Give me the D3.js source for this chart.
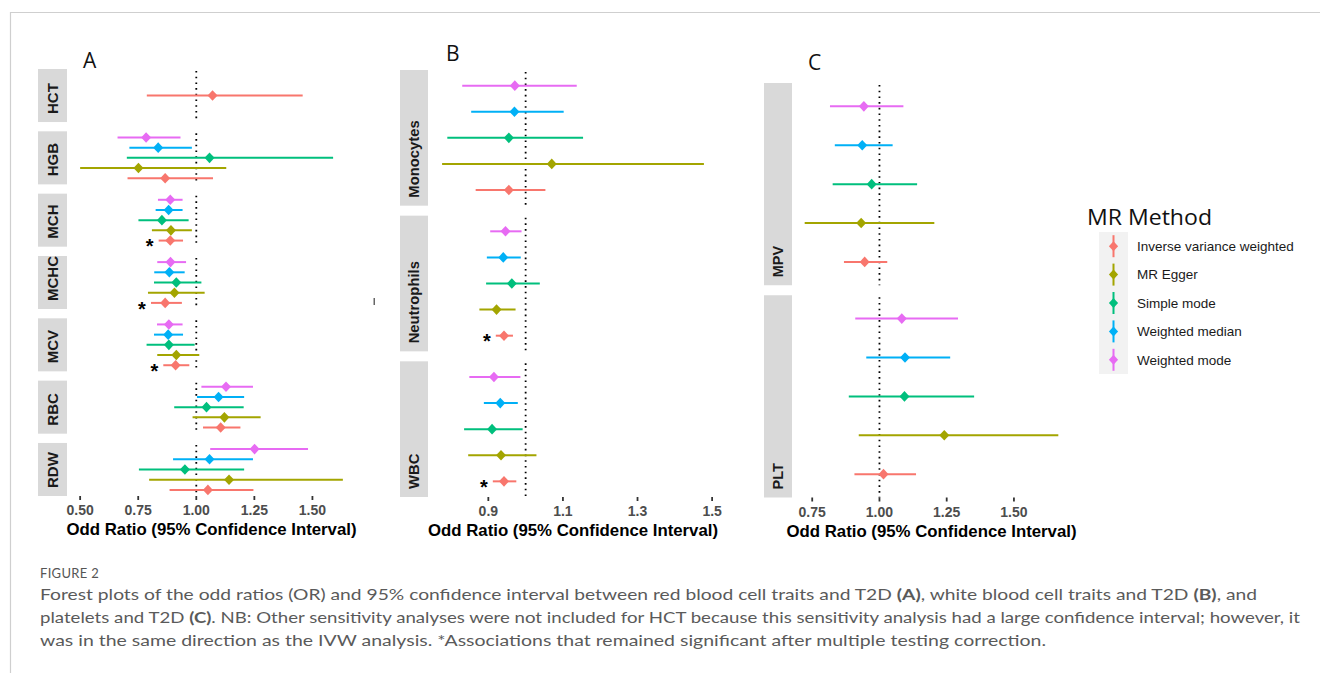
<!DOCTYPE html>
<html>
<head>
<meta charset="utf-8">
<script src="https://cdn.jsdelivr.net/npm/d3@7"></script>
<style>
  html, body { margin: 0; padding: 0; background: #fff; }
  svg { display: block; }
</style>
</head>
<body>
<svg id="chart" width="1320" height="673"></svg>
<script>
// ---------------- DATA ----------------
// method order: IVW, MR Egger, Simple mode, Weighted median, Weighted mode
const methods = ["Inverse variance weighted", "MR Egger", "Simple mode", "Weighted median", "Weighted mode"];
const methodColors = ["#F8766D", "#A3A500", "#00BF7D", "#00B0F6", "#E76BF3"];

// Panel A: red blood cell traits
const traitsA = ["HCT", "HGB", "MCH", "MCHC", "MCV", "RBC", "RDW"];
const orA = [
  [1.070, null, null, null, null],
  [0.866, 0.751, 1.057, 0.836, 0.784],
  [0.888, 0.891, 0.852, 0.881, 0.888],
  [0.866, 0.906, 0.914, 0.884, 0.889],
  [0.911, 0.914, 0.882, 0.879, 0.882],
  [1.105, 1.121, 1.044, 1.096, 1.128],
  [1.050, 1.141, 0.951, 1.057, 1.251]
];
const loA = [
  [0.787, null, null, null, null],
  [0.704, 0.500, 0.701, 0.712, 0.661],
  [0.838, 0.809, 0.751, 0.825, 0.835],
  [0.805, 0.792, 0.818, 0.819, 0.832],
  [0.858, 0.832, 0.786, 0.818, 0.831],
  [1.029, 0.984, 0.905, 1.003, 1.022],
  [0.885, 0.797, 0.753, 0.900, 1.060]
];
const hiA = [
  [1.458, null, null, null, null],
  [1.072, 1.129, 1.589, 0.981, 0.932],
  [0.943, 0.981, 0.967, 0.941, 0.941],
  [0.938, 1.036, 1.022, 0.950, 0.956],
  [0.970, 1.013, 0.993, 0.943, 0.941],
  [1.190, 1.277, 1.204, 1.206, 1.244],
  [1.246, 1.631, 1.206, 1.244, 1.481]
];
const sigA = [false, false, true, true, true, false, false];
const ticksA = [0.50, 0.75, 1.00, 1.25, 1.50];

// Panel B: white blood cell traits
const traitsB = ["Monocytes", "Neutrophils", "WBC"];
const orB = [
  [0.955, 1.070, 0.955, 0.970, 0.971],
  [0.942, 0.922, 0.963, 0.940, 0.946],
  [0.942, 0.934, 0.910, 0.932, 0.915]
];
const loB = [
  [0.866, 0.776, 0.790, 0.854, 0.830],
  [0.920, 0.876, 0.894, 0.896, 0.905],
  [0.912, 0.846, 0.835, 0.888, 0.849]
];
const hiB = [
  [1.053, 1.478, 1.154, 1.102, 1.137],
  [0.966, 0.973, 1.038, 0.987, 0.989],
  [0.975, 1.029, 0.992, 0.979, 0.986]
];
const sigB = [false, true, true];
const ticksB = [0.9, 1.1, 1.3, 1.5];

// Panel C: platelet traits
const traitsC = ["MPV", "PLT"];
const orC = [
  [0.945, 0.932, 0.971, 0.936, 0.942],
  [1.015, 1.241, 1.093, 1.095, 1.083]
];
const loC = [
  [0.868, 0.722, 0.826, 0.834, 0.816],
  [0.907, 0.923, 0.886, 0.951, 0.910]
];
const hiC = [
  [1.029, 1.204, 1.140, 1.049, 1.089],
  [1.136, 1.665, 1.352, 1.263, 1.292]
];
const sigC = [false, false];
const ticksC = [0.75, 1.00, 1.25, 1.50];

const panelLetters = ["A", "B", "C"];
const axisTitle = "Odd Ratio (95% Confidence Interval)";
const legendTitle = "MR Method";
const captionHead = "FIGURE 2";

// ---------------- DRAWING ----------------
const svg = d3.select("#chart");
const FONT = "'Liberation Sans', Arial, sans-serif";

// figure frame
svg.append("line").attr("x1", 10).attr("x2", 1320).attr("y1", 12.5).attr("y2", 12.5)
  .attr("stroke", "#cfcfcf").attr("stroke-width", 1.2);
svg.append("line").attr("x1", 10.5).attr("x2", 10.5).attr("y1", 12).attr("y2", 673)
  .attr("stroke", "#cfcfcf").attr("stroke-width", 1.2);

function diamondPath(cx, cy, hw, hh) {
  const p = d3.path();
  p.moveTo(cx, cy - hh); p.lineTo(cx + hw, cy); p.lineTo(cx, cy + hh); p.lineTo(cx - hw, cy); p.closePath();
  return p.toString();
}

const panels = [
  { traits: traitsA, or: orA, lo: loA, hi: hiA, sig: sigA, ticks: ticksA, fmt: d3.format(".2f"),
    x0: 67, x1: 356, top: 69, bottom: 496, gap: 9.3, stripX: 38, stripW: 29, stripFont: 15,
    letter: { x: 83, y: 68 } },
  { traits: traitsB, or: orB, lo: loB, hi: hiB, sig: sigB, ticks: ticksB, fmt: d3.format(".1f"),
    x0: 429, x1: 717, top: 70, bottom: 497, gap: 10, stripX: 400, stripW: 28, stripFont: 14.8,
    letter: { x: 446, y: 61 } },
  { traits: traitsC, or: orC, lo: loC, hi: hiC, sig: sigC, ticks: ticksC, fmt: d3.format(".2f"),
    x0: 792, x1: 1071, top: 83, bottom: 497.5, gap: 10, stripX: 764, stripW: 28, stripFont: 14.5,
    letter: { x: 808, y: 70 } }
];

panels.forEach((P, pi) => {
  const g = svg.append("g");
  // x scale with ggplot-like 5% expansion
  const allVals = P.lo.flat().concat(P.hi.flat()).filter(v => v != null);
  const [mn, mx] = d3.extent(allVals);
  const ex = (mx - mn) * 0.05;
  const x = d3.scaleLinear().domain([mn - ex, mx + ex]).range([P.x0, P.x1]);

  // facet scale
  const n = P.traits.length;
  const step = (P.bottom - P.top + P.gap) / n;
  const fy = d3.scaleBand().domain(P.traits).range([P.top, P.bottom]).paddingInner(P.gap / step).paddingOuter(0);

  // panel letter
  g.append("text").attr("x", P.letter.x).attr("y", P.letter.y)
    .attr("font-family", "'Open Sans', 'Liberation Sans', sans-serif").attr("font-size", 21)
    .attr("fill", "#111").text(panelLetters[pi]);

  P.traits.forEach((t, ti) => {
    const ft = fy(t), fb = ft + fy.bandwidth();
    // strip
    g.append("rect").attr("x", P.stripX).attr("y", ft).attr("width", P.stripW).attr("height", fb - ft)
      .attr("fill", "#d9d9d9");
    const sx = P.stripX + P.stripW / 2 + P.stripFont * 0.36;
    g.append("text")
      .attr("transform", `translate(${sx},${fb - 8}) rotate(-90)`)
      .attr("font-family", FONT).attr("font-weight", "bold").attr("font-size", P.stripFont)
      .attr("fill", "#1a1a1a").attr("text-anchor", "start").text(t);

    // dotted reference line at OR = 1
    g.append("line").attr("x1", x(1)).attr("x2", x(1)).attr("y1", ft + 2).attr("y2", fb)
      .attr("stroke", "#000").attr("stroke-width", 1.8).attr("stroke-dasharray", "1.6 4.1");

    // rows present
    const present = methods.map((m, mi) => mi).filter(mi => P.or[ti][mi] != null);
    const rowDomain = present.slice().reverse().map(mi => methods[mi]); // Weighted mode on top
    const ry = d3.scalePoint().domain(rowDomain).range([ft, fb]).padding(0.6);

    present.forEach(mi => {
      const yy = ry(methods[mi]);
      const col = methodColors[mi];
      g.append("line").attr("x1", x(P.lo[ti][mi])).attr("x2", x(P.hi[ti][mi]))
        .attr("y1", yy).attr("y2", yy).attr("stroke", col).attr("stroke-width", 2);
      g.append("path").attr("d", diamondPath(x(P.or[ti][mi]), yy, 5, 5.3)).attr("fill", col);
      if (mi === 0 && P.sig[ti]) {
        g.append("text").attr("x", x(P.lo[ti][mi]) - 9).attr("y", yy + 12.7)
          .attr("text-anchor", "middle").attr("font-family", FONT).attr("font-weight", "bold")
          .attr("font-size", 20).attr("fill", "#000").text("*");
      }
    });
  });

  // x axis ticks + labels
  const tickG = g.append("g");
  P.ticks.forEach(tv => {
    tickG.append("line").attr("x1", x(tv)).attr("x2", x(tv)).attr("y1", P.bottom).attr("y2", P.bottom + 4)
      .attr("stroke", "#333").attr("stroke-width", 1.8);
    tickG.append("text").attr("x", x(tv)).attr("y", P.bottom + 19)
      .attr("text-anchor", "middle").attr("font-family", FONT).attr("font-weight", "bold")
      .attr("font-size", 14).attr("fill", "#4d4d4d").text(P.fmt(tv));
  });
  g.append("text").attr("x", (P.x0 + P.x1) / 2).attr("y", P.bottom + 39)
    .attr("text-anchor", "middle").attr("font-family", FONT).attr("font-weight", "bold")
    .attr("font-size", 16.5).attr("fill", "#000")
    .attr("textLength", 290).attr("lengthAdjust", "spacingAndGlyphs").text(axisTitle);
});

// small scan speck seen in the original
svg.append("rect").attr("x", 373.5).attr("y", 298).attr("width", 1.5).attr("height", 7).attr("fill", "#666");

// ---------------- LEGEND ----------------
const lg = svg.append("g");
lg.append("text").attr("x", 1087).attr("y", 225).attr("font-family", "'Open Sans', 'Liberation Sans', sans-serif")
  .attr("font-size", 22).attr("fill", "#111")
  .attr("textLength", 125).attr("lengthAdjust", "spacingAndGlyphs").text(legendTitle);
const keyTop = 232, keyH = 28.4, keyX = 1099, keyW = 29;
lg.append("rect").attr("x", keyX).attr("y", keyTop).attr("width", keyW).attr("height", keyH * methods.length)
  .attr("fill", "#f2f2f2");
methods.forEach((m, i) => {
  const cy = keyTop + keyH * i + keyH / 2;
  const cx = keyX + keyW / 2;
  lg.append("line").attr("x1", cx).attr("x2", cx).attr("y1", cy - 11).attr("y2", cy + 11)
    .attr("stroke", methodColors[i]).attr("stroke-width", 2);
  lg.append("path").attr("d", diamondPath(cx, cy, 4.6, 5)).attr("fill", methodColors[i]);
  lg.append("text").attr("x", 1137).attr("y", cy + 4.8).attr("font-family", FONT)
    .attr("font-size", 13.5).attr("fill", "#1a1a1a").text(m);
});

// ---------------- CAPTION ----------------
const CAP = "Lato, 'Open Sans', sans-serif";
svg.append("text").attr("x", 40).attr("y", 578).attr("font-family", CAP).attr("font-size", 13)
  .attr("fill", "#555").attr("letter-spacing", 0.3).text(captionHead);

const capLines = [
  { y: 600, len: 1217, parts: [
    ["Forest plots of the odd ratios (OR) and 95% confidence interval between red blood cell traits and T2D ", false],
    ["(A)", true], [", white blood cell traits and T2D ", false], ["(B)", true], [", and", false]] },
  { y: 623, len: 1260, parts: [
    ["platelets and T2D ", false], ["(C)", true],
    [". NB: Other sensitivity analyses were not included for HCT because this sensitivity analysis had a large confidence interval; however, it", false]] },
  { y: 646, len: 1006, parts: [
    ["was in the same direction as the IVW analysis. *Associations that remained significant after multiple testing correction.", false]] }
];
capLines.forEach(L => {
  const t = svg.append("text").attr("x", 40).attr("y", L.y).attr("font-family", CAP)
    .attr("font-size", 16).attr("fill", "#5a5a5a")
    .attr("textLength", L.len).attr("lengthAdjust", "spacingAndGlyphs");
  L.parts.forEach(([s, b]) => {
    t.append("tspan").attr("font-weight", b ? "bold" : "normal").text(s);
  });
});
</script>
</body>
</html>
